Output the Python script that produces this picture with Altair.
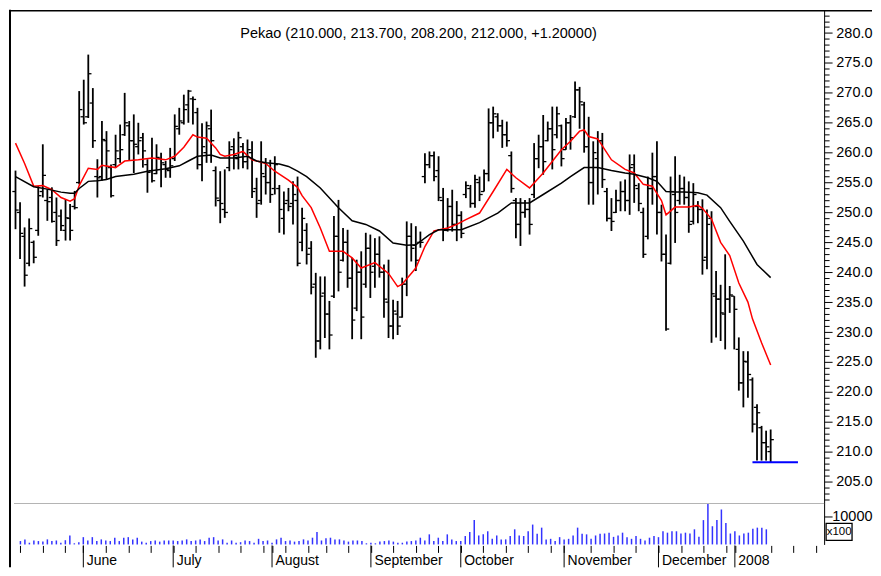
import altair as alt
import pandas as pd

FONT = "Liberation Sans"
TITLE = "Pekao (210.000, 213.700, 208.200, 212.000, +1.20000)"

# trading-day index 0 = 2007-05-14 ... 166 = 2008-01-11
high = [
    257.0, 251.7, 247.5, 249.0, 245.3, 254.4, 261.4, 253.9, 254.2, 252.5,
    250.5, 252.2, 251.4, 253.6, 270.3, 272.2, 276.4, 270.8, 258.9, 265.3,
    263.6, 258.0, 263.0, 264.7, 270.0, 265.3, 266.4, 265.0, 263.3, 258.9,
    262.5, 261.4, 260.0, 258.6, 260.8, 266.4, 267.5, 269.7, 270.5, 269.4,
    267.5, 264.9, 265.2, 267.2, 257.7, 256.9, 257.2, 261.9, 262.4, 263.5,
    261.6, 262.2, 261.9, 255.8, 261.9, 259.1, 258.8, 259.4, 254.6, 253.5,
    254.1, 255.2, 256.0, 250.8, 248.2, 245.2, 239.9, 239.3, 239.3, 235.2,
    249.4, 252.1, 247.4, 247.1, 242.4, 242.1, 243.5, 246.6, 246.3, 245.7,
    246.0, 241.3, 242.1, 235.4, 235.2, 239.1, 248.5, 248.2, 247.7, 246.8,
    259.9, 260.2, 260.2, 259.4, 254.1, 252.4, 253.8, 251.9, 250.2, 255.2,
    254.6, 256.3, 256.0, 257.2, 267.4, 267.7, 266.6, 265.5, 265.2, 260.2,
    252.4, 252.4, 252.1, 252.4, 261.6, 263.0, 266.3, 265.2, 267.7, 267.7,
    264.7, 265.8, 266.3, 271.9, 271.0, 268.5, 266.0, 261.9, 263.6, 263.3,
    254.1, 252.4, 253.8, 255.2, 255.5, 259.7, 259.7, 254.9, 250.8, 256.0,
    260.0, 261.9, 251.3, 246.3, 256.0, 259.4, 256.3, 256.0, 255.2, 254.9,
    251.9, 252.2, 250.5, 250.2, 240.2, 237.9, 243.0, 237.7, 236.0, 229.1,
    226.8, 226.8, 222.4, 217.9, 214.3, 213.5, 213.7]
low = [
    247.2, 242.2, 237.6, 241.0, 241.5, 246.1, 252.5, 248.6, 248.3, 244.4,
    246.9, 245.3, 245.3, 250.5, 254.7, 264.7, 265.8, 260.8, 252.5, 255.3,
    255.5, 252.5, 257.5, 258.3, 262.8, 258.6, 256.6, 259.7, 257.5, 253.3,
    255.0, 256.4, 254.2, 255.8, 255.8, 258.6, 263.0, 264.7, 265.0, 264.7,
    257.2, 255.2, 258.3, 258.3, 251.0, 248.2, 249.1, 256.9, 257.2, 257.2,
    257.4, 257.2, 252.4, 249.1, 251.3, 253.0, 251.6, 253.0, 246.6, 246.3,
    250.2, 248.0, 241.0, 243.5, 241.3, 236.3, 225.7, 227.1, 229.0, 227.1,
    235.7, 236.8, 241.8, 237.4, 228.8, 233.5, 228.8, 237.4, 235.7, 237.4,
    239.1, 232.4, 229.0, 228.8, 229.5, 232.4, 236.0, 241.8, 240.2, 244.1,
    254.9, 257.4, 255.2, 251.9, 245.2, 246.8, 246.8, 245.2, 245.7, 252.4,
    250.8, 250.8, 251.9, 253.5, 255.2, 262.4, 263.5, 260.8, 261.0, 253.3,
    245.7, 244.4, 249.1, 246.3, 252.4, 257.4, 256.3, 261.9, 257.2, 262.4,
    257.7, 260.5, 260.5, 265.8, 264.0, 260.0, 251.3, 251.3, 253.0, 254.1,
    248.5, 246.9, 249.9, 250.2, 250.2, 249.6, 251.6, 250.2, 242.4, 245.5,
    251.3, 246.3, 241.8, 230.2, 241.3, 244.9, 251.3, 251.3, 246.6, 248.0,
    248.2, 239.6, 240.5, 228.2, 229.1, 228.5, 227.1, 233.2, 227.1, 220.2,
    217.4, 219.0, 213.2, 208.5, 208.5, 208.5, 208.2]
open_ = [
    253.5, 250.0, 246.0, 241.5, 245.0, 247.0, 253.5, 252.0, 252.5, 250.0,
    249.4, 247.0, 249.0, 251.0, 255.0, 266.0, 266.0, 268.3, 256.0, 256.0,
    262.0, 257.5, 258.0, 259.0, 263.0, 264.5, 262.0, 261.0, 262.5, 258.0,
    257.0, 256.5, 259.0, 258.0, 257.0, 259.0, 264.0, 265.0, 268.0, 269.0,
    266.7, 258.0, 260.0, 264.0, 257.0, 252.0, 250.5, 257.5, 261.0, 259.0,
    261.0, 258.5, 260.0, 254.0, 252.0, 256.0, 255.0, 254.0, 254.0, 249.0,
    252.0, 251.5, 252.0, 245.0, 247.0, 244.0, 238.0, 228.5, 236.5, 233.0,
    236.0, 246.0, 242.0, 245.0, 239.0, 234.0, 240.0, 238.0, 244.0, 241.0,
    243.0, 240.0, 235.0, 231.0, 233.0, 232.5, 238.0, 246.0, 244.5, 245.0,
    256.0, 258.0, 259.5, 257.0, 252.0, 247.0, 251.0, 248.0, 249.5, 253.0,
    254.0, 251.5, 255.0, 253.5, 256.5, 265.0, 266.0, 264.5, 263.0, 259.5,
    252.0, 248.0, 250.0, 250.5, 253.0, 259.0, 261.0, 262.0, 264.0, 263.0,
    264.5, 260.5, 265.0, 266.0, 270.5, 268.0, 261.0, 255.0, 259.0, 262.0,
    253.5, 249.0, 250.0, 252.0, 253.5, 252.0, 258.0, 254.0, 250.0, 246.0,
    254.0, 256.0, 250.0, 243.0, 241.5, 253.0, 252.0, 254.0, 252.5, 248.5,
    251.0, 250.5, 242.5, 249.0, 236.0, 235.5, 233.0, 235.5, 236.0, 227.1,
    221.5, 225.0, 222.0, 217.4, 214.0, 211.5, 210.0]
close = [
    250.4, 246.5, 239.5, 247.3, 242.5, 252.8, 256.2, 251.8, 248.5, 245.3,
    247.8, 249.1, 247.0, 250.8, 267.2, 265.0, 273.2, 262.0, 255.8, 262.2,
    260.3, 252.8, 260.3, 260.5, 265.0, 262.0, 261.4, 262.0, 260.3, 256.7,
    255.3, 259.2, 258.3, 257.2, 257.8, 264.4, 265.3, 267.2, 270.3, 268.9,
    258.0, 261.0, 264.5, 262.0, 252.4, 251.5, 250.0, 260.5, 259.5, 262.5,
    258.5, 260.5, 253.5, 251.5, 256.5, 255.0, 253.0, 258.0, 250.5, 251.5,
    251.0, 253.0, 241.5, 249.0, 243.0, 237.5, 228.5, 236.0, 233.0, 229.5,
    246.0, 240.0, 245.0, 239.0, 232.0, 240.0, 232.5, 244.0, 240.0, 243.0,
    240.0, 235.5, 231.0, 233.5, 231.0, 238.0, 246.0, 244.0, 242.0, 245.0,
    258.0, 259.5, 256.0, 252.5, 247.0, 251.0, 248.0, 249.5, 246.5, 254.5,
    251.5, 255.5, 253.0, 256.5, 265.0, 266.5, 264.5, 263.0, 262.0, 254.0,
    248.0, 250.0, 250.5, 248.0, 259.0, 261.0, 258.5, 264.0, 260.5, 266.5,
    259.0, 265.0, 262.5, 270.5, 268.5, 261.0, 255.0, 260.0, 262.0, 255.5,
    249.0, 248.5, 252.0, 253.5, 252.0, 257.5, 254.5, 251.5, 243.0, 254.0,
    256.0, 250.0, 243.0, 230.5, 253.5, 250.0, 254.0, 252.5, 248.0, 253.0,
    250.5, 242.0, 248.0, 236.4, 235.5, 233.2, 235.5, 236.2, 233.8, 221.5,
    225.1, 222.9, 214.6, 216.5, 211.5, 210.8, 212.0]
volume = [
    1200, 1800, 600, 1400, 1200, 1000, 1800, 1200, 1400, 600, 1500, 3200, 400, 800,
    2600, 1400, 2600, 1200, 1800, 1400, 1200, 2400, 1200, 2400, 2600, 1800, 2400, 1000,
    600, 1200, 1400, 1000, 1400, 1400,
    1400, 1200, 1400, 1800, 1200, 1400, 1800, 1200, 2400, 2600, 1400, 1800, 600, 1400,
    600, 800, 1400, 1200, 600, 2000, 1200, 1400,
    600, 1800, 2400, 1200, 1400, 1000, 1200, 1800, 1400, 2400, 4400, 1400, 2200, 2400,
    1800, 1800, 1400, 1000, 1400, 1400, 1200, 400,
    600, 400, 1000, 1200, 1400, 1000, 600, 600, 1000, 1200, 1400, 2400, 1400, 3600,
    1200, 2400,
    1200, 3600, 1800, 1200, 1200, 3000, 4400, 8700, 3200, 3600,
    4700, 2000, 3200, 1800, 1800, 3000, 5400, 3200, 3000, 4700,
    7100, 3800, 6000, 1800, 2000, 1200, 2600, 1800, 2000, 3200,
    6000, 3800, 3600, 2000, 3200, 3800, 3900, 4200, 2700, 3200,
    4200, 2600, 2000, 3000, 2000, 1400, 2400, 3000, 2600, 4700,
    4200, 4700, 4700, 3900, 4200, 3900, 5400, 2700, 8700, 14600,
    6500, 8700, 12500, 7700, 3900, 4700, 3200, 3900, 4200, 5600,
    6000, 6000, 5400]

red_idx = [0, 2, 4, 6, 8, 10, 12, 13, 14, 16, 18, 19, 22, 24, 27, 30, 33, 35, 37, 39,
           40, 42, 44, 45, 46, 48, 50, 52, 55, 57, 60, 62, 63, 65, 67, 69, 72, 74, 76, 79,
           82, 84, 85, 88, 90, 92, 95, 97, 99, 102, 105, 108, 110, 113, 116, 120, 122, 124,
           125, 126, 128, 131, 134, 136, 138, 140, 142, 143, 145, 148, 150, 151, 153, 155,
           157, 159, 161, 162, 164, 166]
red_val = [261.6, 258.2, 254.4, 254.5, 253.8, 252.5, 251.9, 252.3, 254.5, 257.4, 257.2, 257.9,
           257.5, 258.6, 258.8, 259.1, 258.8, 259.4, 260.9, 263.0, 262.6, 262.4, 260.8, 259.7,
           259.4, 259.7, 260.2, 258.8, 258.2, 256.9, 255.4, 254.2, 252.8, 250.8, 247.4, 243.5,
           243.5, 242.4, 240.7, 241.6, 239.8, 237.6, 238.0, 240.7, 244.3, 246.9, 247.4, 248.0,
           248.8, 249.9, 253.5, 257.2, 255.8, 254.1, 256.6, 260.5, 261.9, 263.6, 263.8, 262.7,
           262.3, 258.8, 257.2, 256.6, 254.7, 254.4, 252.0, 249.6, 250.9, 250.9, 251.2, 250.7,
           248.9, 245.0, 242.8, 238.2, 235.0, 232.2, 228.2, 224.5]
blk_idx = [0, 4, 7, 10, 12, 13, 14, 16, 18, 20, 22, 26, 29, 33, 36, 38, 40, 43, 45, 48,
           51, 53, 55, 58, 60, 62, 64, 67, 71, 74, 77, 80, 83, 86, 88, 91, 93, 98, 102, 106,
           109, 113, 116, 120, 122, 125, 128, 131, 134, 136, 139, 141, 143, 145, 147, 150,
           152, 155, 157, 160, 163, 166]
blk_val = [256.0, 254.3, 253.9, 253.4, 253.2, 253.2, 254.0, 255.2, 255.3, 255.5, 256.0, 256.4,
           256.9, 257.3, 257.8, 258.6, 259.4, 259.6, 259.1, 259.1, 259.4, 258.6, 258.3, 258.1,
           257.7, 256.9, 256.0, 254.1, 250.8, 248.6, 248.0, 246.9, 244.9, 244.5, 244.6, 246.3,
           247.1, 247.1, 248.3, 249.9, 251.6, 251.6, 253.0, 254.9, 256.0, 257.5, 257.5, 257.0,
           256.6, 256.4, 255.8, 255.2, 253.5, 253.4, 253.4, 253.3, 252.9, 250.8, 248.5, 245.2,
           241.3, 239.1]

support_from = [162]
support_to = [172]
support_level = [208.2]

month_idx = [14, 34, 56, 78, 98, 121, 142, 159]
month_names = ["June", "July", "August", "September", "October", "November", "December", "2008"]
week_idx = [0, 5, 10, 19, 24, 29, 39, 44, 49, 54, 59, 64, 68, 73, 83, 88, 93, 103, 108,
            113, 118, 127, 132, 137, 147, 152, 157, 167, 172, 177]

price_ticks = list(range(202, 284))
vol_ticks = [10000]

# ---------------------------------------------------------------- layout
W = 817
PH = 495
VH = 41
XDOM = [-1.43, 177.75]
PDOM = [201.32, 283.92]
VDOM = [0, 14643]
RIGHT = 865     # right edge of the drawing (plot coords)
BOTTOM = 559    # bottom edge of the drawing (plot coords)

bars = pd.DataFrame({"i": list(range(len(high))), "open": open_, "high": high,
                     "low": low, "close": close, "vol": volume})
red_df = pd.DataFrame({"i": red_idx, "v": red_val})
blk_df = pd.DataFrame({"i": blk_idx, "v": blk_val})
sup_df = pd.DataFrame({"a": support_from, "b": support_to, "p": support_level})
mon_df = pd.DataFrame({"i": month_idx, "name": month_names})

xs = alt.Scale(domain=XDOM, nice=False, zero=False)
ys = alt.Scale(domain=PDOM, nice=False, zero=False)
vs = alt.Scale(domain=VDOM, nice=False, zero=True)

major = "datum.value % 5 === 0"
price_axis = alt.Axis(
    orient="right", values=price_ticks, tickCount=1000, title=None, grid=False,
    labelExpr=f"{major} ? datum.label : ''",
    tickSize={"condition": {"test": major, "value": 8}, "value": 5},
    labelFontSize={"condition": {"test": major, "value": 14.5}, "value": 0},
    labelAlign="right", labelBaseline="middle", labelPadding=RIGHT - W - 8,
    labelOverlap=False, labelFont=FONT, labelColor="black",
    domainColor="black", tickColor="black", domainWidth=1, tickWidth=1)

base = alt.Chart(bars)
hl = base.mark_rule(color="black", strokeWidth=1.8).encode(
    x=alt.X("i:Q", scale=xs, axis=None),
    y=alt.Y("low:Q", scale=ys, axis=price_axis),
    y2="high:Q")
op = base.transform_calculate(xl="datum.i - 0.7").mark_rule(color="black", strokeWidth=1.3).encode(
    x=alt.X("xl:Q", scale=xs, axis=None), x2="i:Q",
    y=alt.Y("open:Q", scale=ys, title=None))
cl = base.transform_calculate(xr="datum.i + 0.7").mark_rule(color="black", strokeWidth=1.3).encode(
    x=alt.X("i:Q", scale=xs, axis=None), x2="xr:Q",
    y=alt.Y("close:Q", scale=ys, title=None))
red = alt.Chart(red_df).mark_line(color="#ff0000", strokeWidth=1.5).encode(
    x=alt.X("i:Q", scale=xs, axis=None), y=alt.Y("v:Q", scale=ys, title=None))
blk = alt.Chart(blk_df).mark_line(color="black", strokeWidth=1.5).encode(
    x=alt.X("i:Q", scale=xs, axis=None), y=alt.Y("v:Q", scale=ys, title=None))
sup = alt.Chart(sup_df).mark_rule(color="#0000ff", strokeWidth=2).encode(
    x=alt.X("a:Q", scale=xs, axis=None), x2="b:Q", y=alt.Y("p:Q", scale=ys, title=None))
ttl = alt.Chart(sup_df).mark_text(text=TITLE, font=FONT, fontSize=14.5, color="black",
                                  align="center", baseline="middle").encode(
    x=alt.value(410.5), y=alt.value(24))
top_border = alt.Chart(sup_df).mark_rule(color="black", strokeWidth=1.5).encode(
    x=alt.value(0), x2=alt.value(RIGHT), y=alt.value(1))
left_border = alt.Chart(sup_df).mark_rule(color="black", strokeWidth=2).encode(
    x=alt.value(1), y=alt.value(0), y2=alt.value(BOTTOM))

price = alt.layer(hl, op, cl, red, blk, sup, ttl, top_border, left_border).properties(
    width=W, height=PH)

# ---------------------------------------------------------------- volume
label_expr = "".join(f"datum.value === {m} ? '{n}' : " for m, n in zip(month_idx, month_names)) + "''"
x_axis = alt.Axis(
    orient="bottom", values=sorted(week_idx + month_idx), tickCount=1000, labelExpr=label_expr,
    tickSize=7, tickColor="black", tickWidth=1, domain=False, grid=False, offset=1,
    labelAlign="left", labelBaseline="top", labelOffset=3, labelPadding=1,
    labelOverlap=False, labelFlush=False, labelFont=FONT, labelFontSize=14,
    labelColor="black", title=None)
vol_axis = alt.Axis(
    orient="right", values=vol_ticks, format="d", title=None, grid=False, tickSize=8,
    labelAlign="right", labelBaseline="middle", labelPadding=RIGHT - W - 8,
    labelFont=FONT, labelFontSize=14.5, labelColor="black",
    domainColor="black", tickColor="black")

vbars = alt.Chart(bars).mark_bar(color="#3333ff", size=1.5).encode(
    x=alt.X("i:Q", scale=xs, axis=x_axis),
    y=alt.Y("vol:Q", scale=vs, axis=vol_axis))
mticks = alt.Chart(mon_df).mark_rule(color="black", strokeWidth=1).encode(
    x=alt.X("i:Q", scale=xs), y=alt.value(VH + 1), y2=alt.value(BOTTOM - PH))
sep = alt.Chart(sup_df).mark_rule(color="#b4b4b4", strokeWidth=1).encode(
    x=alt.value(5), x2=alt.value(W), y=alt.value(0))
box = alt.Chart(sup_df).mark_rect(fill="white", stroke="black", strokeWidth=1.3).encode(
    x=alt.value(819), x2=alt.value(845), y=alt.value(20), y2=alt.value(37))
boxt = alt.Chart(sup_df).mark_text(text="x100", font=FONT, fontSize=11.5, color="black",
                                   align="center", baseline="middle").encode(
    x=alt.value(832), y=alt.value(28.5))

vol = alt.layer(vbars, mticks, sep, box, boxt).properties(width=W, height=VH)

chart = alt.vconcat(price, vol, spacing=0, bounds="flush").properties(
    padding={"left": 0, "top": 0, "right": 0, "bottom": 0}
).configure_view(stroke=None)

chart.save("out.html", embed_options={"renderer": "svg", "actions": False})
